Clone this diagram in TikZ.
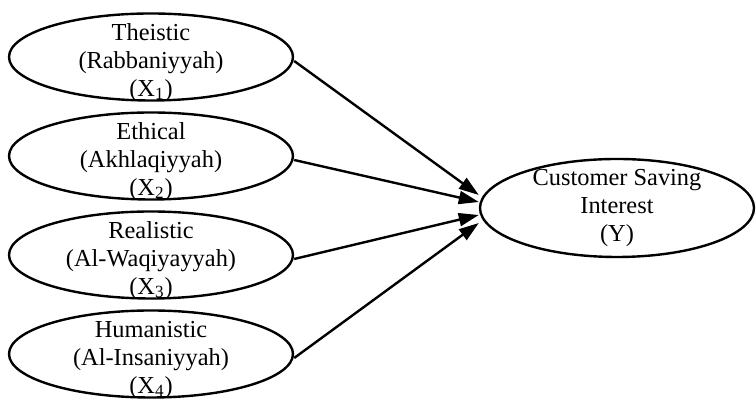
\documentclass[tikz,border=0pt]{standalone}
\usepackage{fontspec}
\setmainfont{Liberation Serif}
\usetikzlibrary{shapes.geometric,arrows.meta}
\newcommand{\lift}{\rule{0pt}{14pt}}

\begin{document}
\begin{tikzpicture}[x=0.5pt,y=0.5pt,
    factor/.style={draw,ellipse,line width=1.2pt,
                   minimum width=142pt,minimum height=43.5pt,
                   inner xsep=0pt,inner ysep=-8pt,align=center,
                   font=\fontsize{12.2}{14}\selectfont},
    arrow/.style={-{Triangle[length=10pt,width=6.5pt]},line width=1.2pt}]
    \useasboundingbox (0,0) rectangle (756,400);

    \node[factor] (X1) at (151,343) {\lift Theistic\\(Rabbaniyyah)\\(X\textsubscript{1})};
    \node[factor] (X2) at (151,244) {\lift Ethical\\(Akhlaqiyyah)\\(X\textsubscript{2})};
    \node[factor] (X3) at (151,145) {\lift Realistic\\(Al-Waqiyayyah)\\(X\textsubscript{3})};
    \node[factor] (X4) at (151,46)  {\lift Humanistic\\(Al-Insaniyyah)\\(X\textsubscript{4})};

    \node[factor,minimum width=137pt,minimum height=49pt] (Y) at (617,192)
          {Customer Saving\\Interest\\(Y)};

    \foreach \i/\s in {1/6.5pt,2/3pt,3/-3.5pt,4/-7.5pt}
      \draw[arrow] ([yshift=-2pt]X\i.east) -- ([yshift=\s]Y.west);
\end{tikzpicture}
\end{document}
